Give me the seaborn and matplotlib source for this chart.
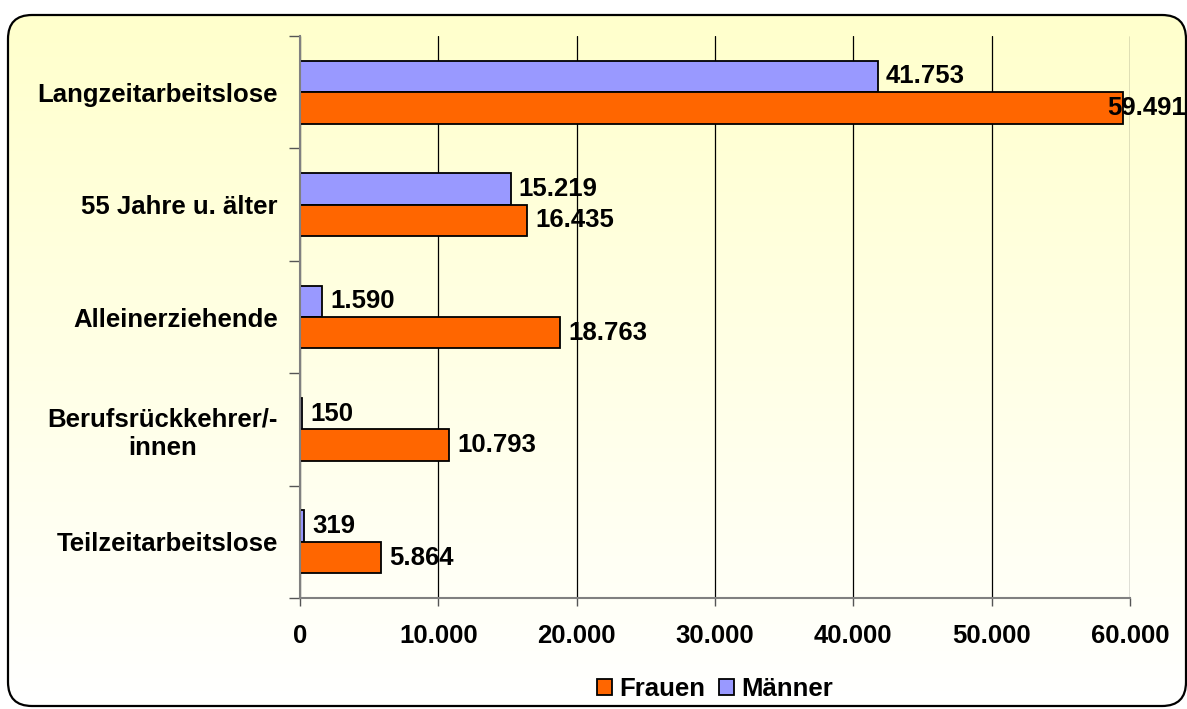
import numpy as np
import pandas as pd
import matplotlib
matplotlib.use("Agg")
import matplotlib.pyplot as plt
from matplotlib.patches import FancyBboxPatch
from matplotlib.colors import LinearSegmentedColormap
import seaborn as sns

# ---- data ----
categories = ["Langzeitarbeitslose", "55 Jahre u. älter", "Alleinerziehende",
              "Berufsrückkehrer/-\ninnen", "Teilzeitarbeitslose"]
maenner = [41753, 15219, 1590, 150, 319]
frauen = [59491, 16435, 18763, 10793, 5864]
series_names = ["Männer", "Frauen"]
x_ticks = [0, 10000, 20000, 30000, 40000, 50000, 60000]

df = pd.DataFrame({
    "Kategorie": categories * 2,
    "Gruppe": [series_names[0]] * len(categories) + [series_names[1]] * len(categories),
    "Wert": maenner + frauen,
})

def de_fmt(v):
    return f"{int(round(v)):,}".replace(",", ".")

sns.set_theme(style="white")
plt.rcParams["font.family"] = ["Liberation Sans", "DejaVu Sans"]
plt.rcParams["font.weight"] = "bold"
plt.rcParams["text.color"] = "black"
plt.rcParams["xtick.color"] = "black"
plt.rcParams["ytick.color"] = "black"

FS = 18.5
W, H = 1187, 709
fig = plt.figure(figsize=(W / 100, H / 100), dpi=100)
fig.patch.set_facecolor("white")

# background with rounded border and vertical gradient
bg = fig.add_axes([0, 0, 1, 1], zorder=-10)
bg.set_xlim(0, W)
bg.set_ylim(H, 0)
bg.axis("off")
cmap = LinearSegmentedColormap.from_list("g", ["#FFFFCC", "#FFFFFF"])
grad = np.linspace(0, 1, 256).reshape(-1, 1)
im = bg.imshow(grad, cmap=cmap, aspect="auto", extent=[8, 1186, 706, 15], zorder=0)
box = FancyBboxPatch((8, 15), 1178, 691, boxstyle="round,pad=0,rounding_size=24",
                     facecolor="none", edgecolor="black", linewidth=1.6, zorder=2)
bg.add_patch(box)
im.set_clip_path(box)

ax = fig.add_axes([300 / W, 1 - 598 / H, 830 / W, 562 / H])
ax.set_facecolor("none")

palette = {"Männer": "#9999FF", "Frauen": "#FF6600"}
sns.barplot(data=df, x="Wert", y="Kategorie", hue="Gruppe", order=categories,
            hue_order=series_names, palette=palette, orient="h", width=0.56,
            edgecolor="black", linewidth=1.3, saturation=1, ax=ax, legend=True)

ax.set_xlim(0, 60000)
ax.set_ylim(len(categories) - 0.5, -0.5)
ax.set_xticks(x_ticks)
ax.set_xticklabels([de_fmt(v) for v in x_ticks], fontsize=FS, fontweight="bold")
ax.set_yticks(range(len(categories)))
ax.set_yticklabels(categories, fontsize=FS, fontweight="bold")
for lab in ax.get_yticklabels():
    lab.set_multialignment("center")
ax.set_yticks(np.arange(-0.5, len(categories)), minor=True)
ax.tick_params(axis="y", which="major", length=0, pad=16, labelcolor="black")
ax.tick_params(axis="y", which="minor", length=8, width=1, color="#555555", left=True)
ax.tick_params(axis="x", which="major", length=6, width=1, color="#555555", bottom=True,
               pad=13, labelcolor="black")
ax.set_xlabel("")
ax.set_ylabel("")

ax.grid(axis="x", color="black", linewidth=0.9)
ax.grid(axis="y", visible=False)
ax.set_axisbelow(True)
for s in ["top", "right"]:
    ax.spines[s].set_visible(False)
for s in ["left", "bottom"]:
    ax.spines[s].set_color("#808080")
    ax.spines[s].set_linewidth(1.5)

# value labels
for cont in ax.containers:
    for bar in cont:
        v = bar.get_width()
        y = bar.get_y() + bar.get_height() / 2
        if v > 57000:
            off = -11
        else:
            off = 6
        ax.annotate(de_fmt(v), xy=(v, y), xytext=(off, 0), textcoords="offset points",
                    ha="left", va="center", fontsize=FS, fontweight="bold",
                    color="black", annotation_clip=False)

# legend
handles, labels = ax.get_legend_handles_labels()
hmap = dict(zip(labels, handles))
ax.legend_.remove()
order = ["Frauen", "Männer"]
leg = fig.legend([hmap[k] for k in order], order, loc="center",
                 bbox_to_anchor=(715 / W, 1 - 689 / H), ncol=2, frameon=False,
                 prop={"size": FS, "weight": "bold"}, handlelength=0.6,
                 handleheight=0.6, handletextpad=0.3, columnspacing=0.5,
                 labelcolor="black")

fig.savefig("out.png", dpi=100)
